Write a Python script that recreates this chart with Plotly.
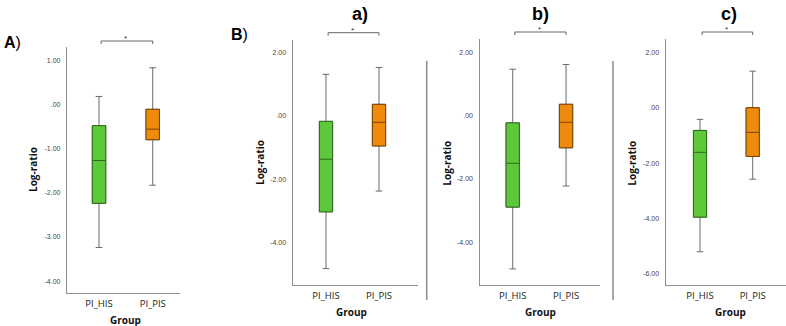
import plotly.graph_objects as go

W, H = 786, 326

categories = ["PI_HIS", "PI_PIS"]

# Panel A
A_low = [-3.24, -1.83]
A_q1 = [-2.24, -0.80]
A_med = [-1.27, -0.56]
A_q3 = [-0.48, -0.11]
A_high = [0.18, 0.83]

# Panel B a)
a_low = [-4.84, -2.38]
a_q1 = [-3.04, -0.95]
a_med = [-1.37, -0.20]
a_q3 = [-0.17, 0.37]
a_high = [1.32, 1.54]

# Panel B b)
b_low = [-4.85, -2.22]
b_q1 = [-2.89, -1.01]
b_med = [-1.50, -0.20]
b_q3 = [-0.22, 0.37]
b_high = [1.48, 1.63]

# Panel B c)
c_low = [-5.20, -2.58]
c_q1 = [-3.95, -1.76]
c_med = [-1.61, -0.89]
c_q3 = [-0.82, 0.00]
c_high = [-0.42, 1.32]

A_ticks = [-4, -3, -2, -1, 0, 1]
A_ticklabels = ["-4.00", "-3.00", "-2.00", "-1.00", ".00", "1.00"]
ab_ticks = [-4, -2, 0, 2]
ab_ticklabels = ["-4.00", "-2.00", ".00", "2.00"]
c_ticks = [-6, -4, -2, 0, 2]
c_ticklabels = ["-6.00", "-4.00", "-2.00", ".00", "2.00"]

fills = ["#5cc83a", "#ee8a0c"]
edges = ["#2e6a1c", "#7a4300"]
whisker_col = "#6a6a6a"
axis_col = "#8e8e8e"


def px(x):
    return x / W


def py(y):
    return 1 - y / H


panels = [
    ((A_low, A_q1, A_med, A_q3, A_high), (67, 180), (47, 293), [-0.596, 1.508], [-4.27, 1.30], A_ticks, A_ticklabels),
    ((a_low, a_q1, a_med, a_q3, a_high), (292.7, 418), (40, 285), [-0.628, 1.736], [-5.36, 2.41], ab_ticks, ab_ticklabels),
    ((b_low, b_q1, b_med, b_q3, b_high), (479.5, 600), (39.3, 285), [-0.623, 1.637], [-5.36, 2.43], ab_ticks, ab_ticklabels),
    ((c_low, c_q1, c_med, c_q3, c_high), (665.7, 786), (39.3, 285), [-0.651, 1.632], [-6.40, 2.47], c_ticks, c_ticklabels),
]

fig = go.Figure()
layout = dict(
    width=W, height=H, margin=dict(l=0, r=0, t=0, b=0),
    paper_bgcolor="white", plot_bgcolor="white", showlegend=False,
    boxmode="overlay",
)
annotations = []
shapes = []

for i, (stats, xd, yd, xr, yr, tv, tt) in enumerate(panels):
    n = "" if i == 0 else str(i + 1)
    xa, ya = "x" + n, "y" + n
    low, q1, med, q3, high = stats
    for k, cat in enumerate(categories):
        # whiskers (gray)
        fig.add_trace(go.Box(
            x=[cat], q1=[q1[k]], median=[med[k]], q3=[q3[k]],
            lowerfence=[low[k]], upperfence=[high[k]],
            width=0.25, whiskerwidth=0.5, boxpoints=False,
            line=dict(color=whisker_col, width=1),
            fillcolor="rgba(0,0,0,0)", xaxis=xa, yaxis=ya, hoverinfo="skip",
        ))
        # box (coloured)
        fig.add_trace(go.Box(
            x=[cat], q1=[q1[k]], median=[med[k]], q3=[q3[k]],
            lowerfence=[q1[k]], upperfence=[q3[k]],
            width=0.25, whiskerwidth=0, boxpoints=False,
            line=dict(color=edges[k], width=1),
            fillcolor=fills[k], xaxis=xa, yaxis=ya, hoverinfo="skip",
        ))
    layout["xaxis" + n] = dict(
        domain=[px(xd[0]), px(xd[1])], anchor=ya, type="category",
        categoryorder="array", categoryarray=categories,
        range=xr, showline=True, linecolor=axis_col, linewidth=1.3,
        showgrid=False, zeroline=False, ticks="",
        tickfont=dict(family="Open Sans", size=9.5, color="#222"),
        ticklabelstandoff=1,
    )
    layout["yaxis" + n] = dict(
        domain=[py(yd[1]), py(yd[0])], anchor=xa, range=yr,
        tickvals=tv, ticktext=tt, showline=True, linecolor=axis_col,
        linewidth=1.3, showgrid=False, zeroline=False, ticks="",
        tickfont=dict(family="Liberation Sans", size=7, color="#444"),
        ticklabelstandoff=4,
    )
    # significance bracket drawn in the axis category coordinates
    bracket_y = yd[0] - (6 if i == 0 else 7.3)
    x0 = 0.04
    for (xa0, xa1, y0, y1) in [(x0, 1.0, bracket_y, bracket_y),
                                (x0, x0, bracket_y, bracket_y + 3),
                                (1.0, 1.0, bracket_y, bracket_y + 3)]:
        shapes.append(dict(type="line", xref=xa, yref="paper", x0=xa0, x1=xa1,
                           y0=py(y0), y1=py(y1), line=dict(color="#666", width=1)))
    annotations.append(dict(text="*", xref=xa, yref="paper", x=0.5,
                            y=py(bracket_y - 2.2), showarrow=False, borderpad=0,
                            font=dict(family="Liberation Sans", size=8, color="#333"),
                            xanchor="center", yanchor="middle"))

# axis titles
ylab_x = [33, 260, 446.7, 631.7]
ylab_y = [170, 163, 163, 163]
grp_x = [125.5, 351.7, 540, 730]
grp_y = [320, 311.7, 311.7, 311.7]
for i in range(4):
    annotations.append(dict(text="<b>Log-ratio</b>", x=px(ylab_x[i]), y=py(ylab_y[i]),
                            xref="paper", yref="paper", showarrow=False, textangle=-90,
                            font=dict(family="Open Sans", size=10, color="#111"),
                            xanchor="center", yanchor="middle"))
    annotations.append(dict(text="<b>Group</b>", x=px(grp_x[i]), y=py(grp_y[i]),
                            xref="paper", yref="paper", showarrow=False, borderpad=0,
                            font=dict(family="Open Sans", size=10, color="#111"),
                            xanchor="center", yanchor="middle"))

# panel labels
annotations.append(dict(text="<b>A</b>)", x=px(2), y=py(42), xref="paper", yref="paper",
                        showarrow=False, xanchor="left", yanchor="middle",
                        font=dict(family="Liberation Sans", size=16, color="#000")))
annotations.append(dict(text="<b>B</b>)", x=px(229), y=py(34.5), xref="paper", yref="paper",
                        showarrow=False, xanchor="left", yanchor="middle",
                        font=dict(family="Liberation Sans", size=16, color="#000")))
for t, x in zip(["a)", "b)", "c)"], [360, 540, 729]):
    annotations.append(dict(text="<b>" + t + "</b>", x=px(x), y=py(14.5), xref="paper",
                            yref="paper", showarrow=False, xanchor="center", yanchor="middle",
                            borderpad=0,
                            font=dict(family="Liberation Sans", size=18, color="#000")))

# separators between sub-panels
for x in [426.7, 613]:
    shapes.append(dict(type="line", xref="paper", yref="paper", x0=px(x), x1=px(x),
                       y0=py(61), y1=py(300), line=dict(color="#8a8a8a", width=1.5)))

layout["annotations"] = annotations
layout["shapes"] = shapes
fig.update_layout(**layout)
fig.write_html(
    "out.html",
    config={"displayModeBar": False},
    post_script="document.body.style.margin='0';document.body.style.overflow='hidden';",
)
